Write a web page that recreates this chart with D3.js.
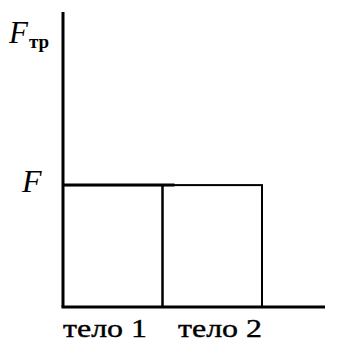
<!DOCTYPE html>
<html>
<head>
<meta charset="utf-8">
<script src="https://cdn.jsdelivr.net/npm/d3@7"></script>
<style>
  body { margin: 0; background: #fff; }
</style>
</head>
<body>
<div id="target"></div>
<script>
const bodies = ['тело 1', 'тело 2'];
const friction = [1, 1];          // F for both bodies
const levelLabel = 'F';
const yTitle = 'F';
const yTitleSub = 'тр';

const width = 342;
const height = 342;
const serif = '"Liberation Serif", "Times New Roman", "DejaVu Serif", serif';

const svg = d3.select('#target')
  .append('svg')
  .attr('width', width)
  .attr('height', height)
  .style('font-family', serif);

const x = d3.scaleBand()
  .domain(bodies)
  .range([63, 262])
  .padding(0);

const y = d3.scaleLinear()
  .domain([0, 2.42])
  .range([307, 12]);

// bars
svg.append('g')
  .selectAll('rect')
  .data(bodies)
  .enter()
  .append('rect')
  .attr('x', (d) => x(d))
  .attr('y', (d, i) => y(friction[i]))
  .attr('width', x.bandwidth())
  .attr('height', (d, i) => y(0) - y(friction[i]))
  .attr('fill', 'none')
  .attr('stroke', '#000')
  .attr('stroke-width', 2);

// axes
svg.append('line')
  .attr('x1', x.range()[0]).attr('x2', x.range()[0])
  .attr('y1', y(y.domain()[1])).attr('y2', y(0))
  .attr('stroke', '#000').attr('stroke-width', 3);
svg.append('line')
  .attr('x1', x.range()[0] - 1.5).attr('x2', 325)
  .attr('y1', y(0)).attr('y2', y(0))
  .attr('stroke', '#000').attr('stroke-width', 3);

// level F mark
svg.append('line')
  .attr('x1', x.range()[0]).attr('x2', x(bodies[0]) + x.bandwidth() + 12)
  .attr('y1', y(friction[0])).attr('y2', y(friction[0]))
  .attr('stroke', '#000').attr('stroke-width', 3);

svg.append('text')
  .attr('x', 22)
  .attr('y', y(friction[0]) + 7)
  .attr('font-family', serif)
  .attr('font-size', 32)
  .attr('font-style', 'italic')
  .text(levelLabel);

const t = svg.append('text')
  .attr('x', 9)
  .attr('y', 43)
  .attr('font-family', serif)
  .attr('font-size', 31)
  .attr('font-style', 'italic');
t.append('tspan').text(yTitle);
t.append('tspan')
  .attr('dy', 5)
  .attr('dx', 1)
  .attr('font-size', 19)
  .attr('font-style', 'normal')
  .attr('font-weight', 'bold')
  .text(yTitleSub);

// category labels: first starts at its bar, second ends at its bar
svg.append('g')
  .selectAll('text')
  .data(bodies)
  .enter()
  .append('text')
  .attr('x', (d, i) => i === 0 ? x(d) : x(d) + x.bandwidth())
  .attr('y', 337)
  .attr('text-anchor', (d, i) => i === 0 ? 'start' : 'end')
  .attr('font-family', serif)
  .attr('font-size', 26)
  .attr('textLength', 84)
  .attr('lengthAdjust', 'spacingAndGlyphs')
  .attr('stroke', '#000')
  .attr('stroke-width', 0.4)
  .text((d) => d);
</script>
</body>
</html>
